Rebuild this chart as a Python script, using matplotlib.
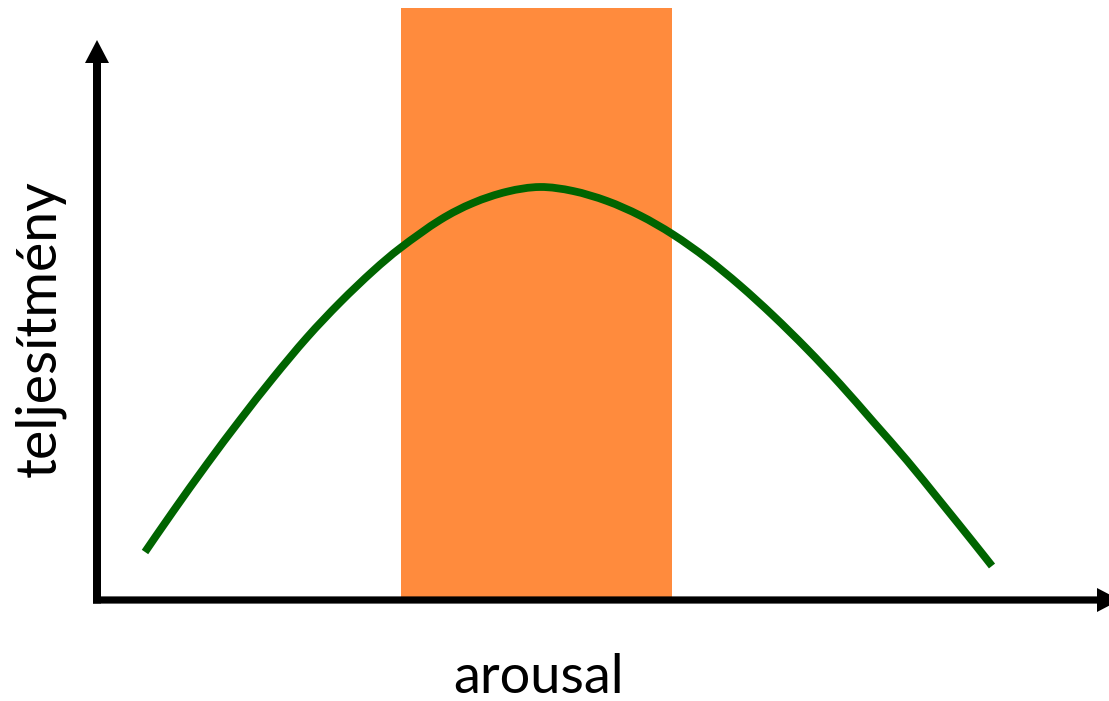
import matplotlib
matplotlib.use("Agg")
import matplotlib.pyplot as plt
from matplotlib.patches import Rectangle, FancyArrow, PathPatch
from matplotlib.path import Path

# Data (arousal vs. performance, arbitrary units)
arousal = [0.48, 0.76, 1.10, 1.43, 1.76, 2.10, 2.43, 2.76, 3.04, 3.43, 3.76, 4.10, 4.43,
           4.76, 5.10, 5.43, 5.76, 6.10, 6.43, 6.76, 7.10, 7.43, 7.76, 8.10, 8.43, 8.76, 8.95]
performance = [0.48, 0.885, 1.36, 1.80, 2.22, 2.625, 2.975, 3.29, 3.525, 3.80, 3.97, 4.083, 4.13,
               4.09, 3.99, 3.845, 3.655, 3.415, 3.145, 2.845, 2.51, 2.16, 1.785, 1.395, 0.99,
               0.58, 0.34]
optimal_zone = [3.04, 5.75]   # arousal range of optimal zone
zone_height = 5.92
x_label = "arousal"
y_label = "teljesítmény"

plt.rcParams['font.family'] = ['Lato', 'DejaVu Sans']

fig = plt.figure(figsize=(11.09, 7.01), dpi=100)
ax = fig.add_axes([0, 0, 1, 1])
ax.set_xlim(-0.97, 10.12)
ax.set_ylim(-1.01, 6.00)
ax.axis('off')

# Orange zone
ax.add_patch(Rectangle((optimal_zone[0], 0.03), optimal_zone[1] - optimal_zone[0],
                       zone_height - 0.03, facecolor='#FF8B3D', edgecolor='none', zorder=1))

# Smooth curve through the data points (Catmull-Rom -> cubic Bezier segments)
pts = list(zip(arousal, performance))
n = len(pts)
verts = [pts[0]]
codes = [Path.MOVETO]
for i in range(n - 1):
    p0 = pts[i - 1] if i > 0 else pts[i]
    p1 = pts[i]
    p2 = pts[i + 1]
    p3 = pts[i + 2] if i + 2 < n else pts[i + 1]
    c1 = (p1[0] + (p2[0] - p0[0]) / 6, p1[1] + (p2[1] - p0[1]) / 6)
    c2 = (p2[0] - (p3[0] - p1[0]) / 6, p2[1] - (p3[1] - p1[1]) / 6)
    verts += [c1, c2, p2]
    codes += [Path.CURVE4, Path.CURVE4, Path.CURVE4]
ax.add_patch(PathPatch(Path(verts, codes), facecolor='none', edgecolor='#006400',
                       lw=5.6, capstyle='butt', joinstyle='round', zorder=3))

# Axes arrows
ax.add_patch(FancyArrow(-0.04, 0.0, 10.27, 0, width=0.072, head_width=0.24,
                        head_length=0.23, length_includes_head=True,
                        color='black', lw=0, zorder=4))
ax.add_patch(FancyArrow(0.0, -0.035, 0, 5.635, width=0.08, head_width=0.24,
                        head_length=0.23, length_includes_head=True,
                        color='black', lw=0, zorder=4))

# Labels
ax.text(4.42, -0.93, x_label, fontsize=39, ha='center', va='baseline', color='black')
ax.text(-0.57, 2.71, y_label, fontsize=40, ha='center', va='center', rotation=90,
        color='black')

fig.savefig("out.png", dpi=100)
